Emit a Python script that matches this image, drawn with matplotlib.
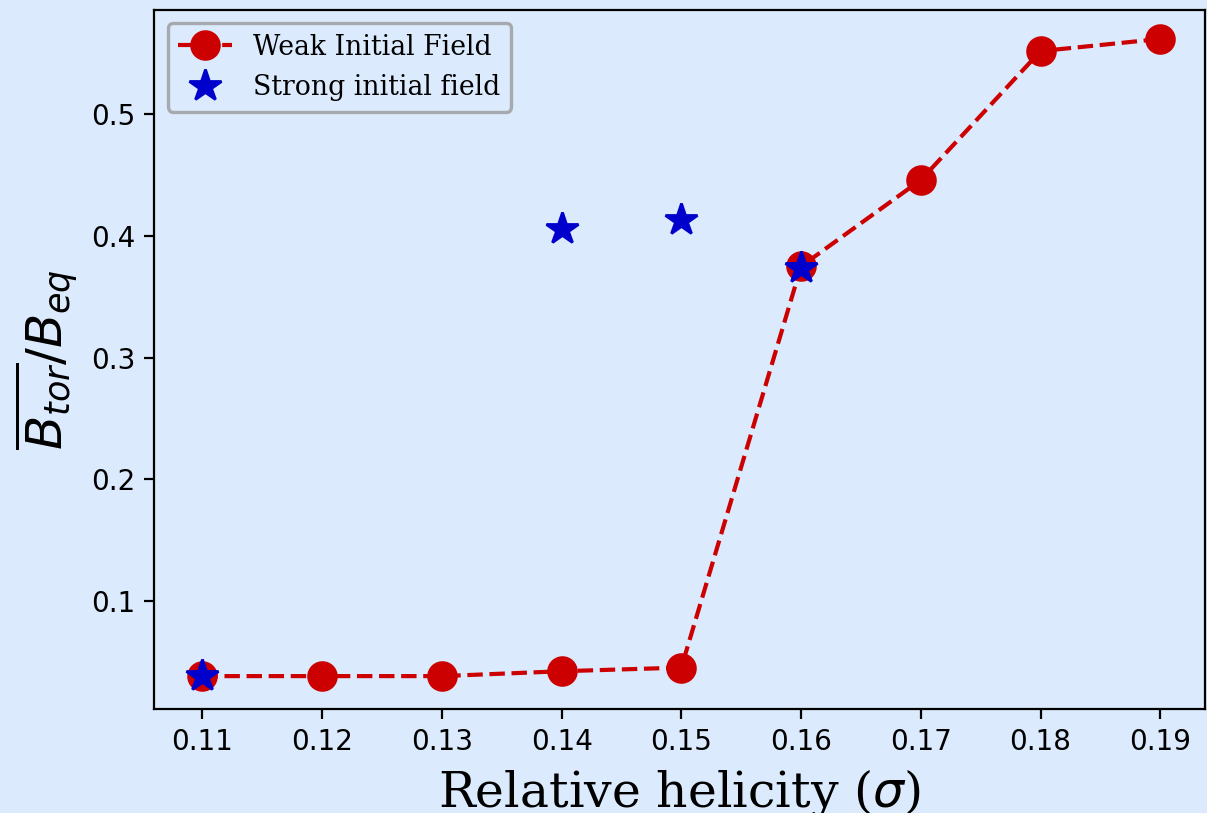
import matplotlib
matplotlib.use("Agg")
import matplotlib.pyplot as plt

# helicity values and toroidal field ratio
sigma_weak = [0.11, 0.12, 0.13, 0.14, 0.15, 0.16, 0.17, 0.18, 0.19]
btor_weak = [0.038, 0.038, 0.038, 0.042, 0.045, 0.375, 0.446, 0.552, 0.562]

sigma_strong = [0.11, 0.14, 0.15, 0.16]
btor_strong = [0.038, 0.406, 0.413, 0.374]

xticks = [0.11, 0.12, 0.13, 0.14, 0.15, 0.16, 0.17, 0.18, 0.19]
yticks = [0.1, 0.2, 0.3, 0.4, 0.5]

bg = "#dbeafc"

fig, ax = plt.subplots(figsize=(6.035, 4.065), dpi=200)
fig.patch.set_facecolor(bg)
ax.set_facecolor(bg)

ax.plot(sigma_weak, btor_weak, "--o", color="#cc0000", markersize=10,
        linewidth=1.5, label="Weak Initial Field")
ax.plot(sigma_strong, btor_strong, "*", color="#0000cc", markersize=12,
        linestyle="none", label="Strong initial field")

ax.set_xlim(0.106, 0.1937)
ax.set_ylim(0.011, 0.586)
ax.set_xticks(xticks)
ax.set_yticks(yticks)

ax.set_xlabel(r"Relative helicity ($\sigma$)", family="DejaVu Serif", fontsize=17.6)
ax.set_ylabel(r"$\overline{B_{tor}}/B_{eq}$", fontsize=18)

leg = ax.legend(loc="upper left", prop={"family": "DejaVu Serif", "size": 9.6})
leg.get_frame().set_facecolor(bg)
leg.get_frame().set_edgecolor("#999999")
leg.get_frame().set_linewidth(1.2)

plt.subplots_adjust(left=0.128, right=0.998, top=0.988, bottom=0.128)
plt.savefig("out.png", facecolor=bg)
plt.close()
